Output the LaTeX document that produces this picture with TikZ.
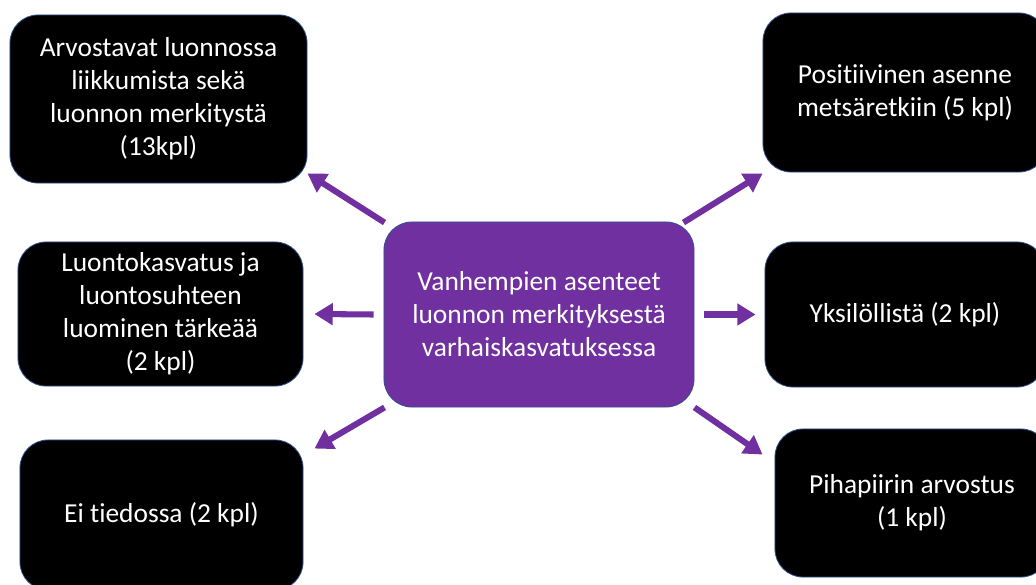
\documentclass[tikz,border=0pt]{standalone}
\usepackage{fontspec}
\setmainfont{Carlito}[Ligatures=NoCommon]
\usetikzlibrary{calc}
\usetikzlibrary{arrows.meta}

\definecolor{hubpurple}{HTML}{7030A0}
\definecolor{edgeblue}{HTML}{2F528F}

\begin{document}
\begin{tikzpicture}[x=0.025cm,y=-0.025cm,
  box/.style={rectangle,rounded corners=0.7cm,fill=black,draw=edgeblue,
    line width=0.6pt,text=white,align=center,inner sep=0pt,
    font=\fontsize{19.5}{23.5}\selectfont},
  centrebox/.style={box,fill=hubpurple},
  arr/.style={draw=hubpurple,line width=4.3pt,
    -{Triangle[length=13pt,width=15pt]}}]
  \useasboundingbox (0,0) rectangle (1036,584);
  \clip (0,0) rectangle (1036,584);

  % nodes
  \node[centrebox,minimum width=7.75cm,minimum height=4.625cm] (V)
    at (539,314.5) {Vanhempien asenteet\\luonnon merkityksestä\\varhaiskasvatuksessa};
  \node[box,minimum width=7.425cm,minimum height=4.2cm] (A)
    at (158.5,99) {Arvostavat luonnossa\\liikkumista sekä\\luonnon merkitystä\\(13kpl)};
  \node[box,minimum width=7.125cm,minimum height=3.6cm] (L)
    at (160.5,314) {Luontokasvatus ja\\luontosuhteen\\luominen tärkeää\\(2 kpl)};
  \node[box,minimum width=7.075cm,minimum height=3.75cm] (E)
    at (161.5,515) {Ei tiedossa (2 kpl)};
  \node[box,minimum width=7.1cm,minimum height=3.975cm] (P)
    at (905,92.5) {Positiivinen asenne\\metsäretkiin (5 kpl)};
  \node[box,minimum width=7cm,minimum height=3.625cm] (Y)
    at (905,314.5) {Yksilöllistä (2 kpl)};
  \node[box,minimum width=6.85cm,minimum height=3.7cm] (H)
    at (912,503) {Pihapiirin arvostus\\(1 kpl)};

  % arrows
  \draw[arr] ($(V.north west)+(1,1)$) -- ($(A.south east)+(0,-10)$);
  \draw[arr] ($(V.west)+(-10,0)$) -- ($(L.east)+(11,0)$);
  \draw[arr] ($(V.south west)+(1,0)$) -- ($(E.north east)+(11,9)$);
  \draw[arr] ($(V.north east)+(-11,1)$) -- ($(P.south west)+(0,1)$);
  \draw[arr] ($(V.east)+(10,0)$) -- ($(Y.west)+(-9,0)$);
  \draw[arr] ($(V.south east)+(0,0)$) -- ($(H.north west)+(-12,26)$);
\end{tikzpicture}
\end{document}
